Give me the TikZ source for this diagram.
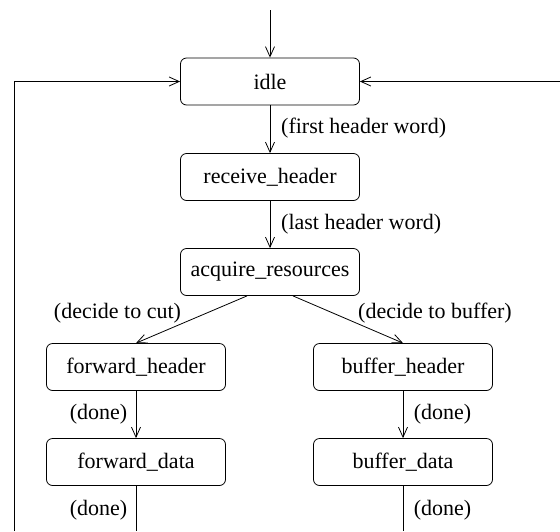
\documentclass[tikz,border=0pt]{standalone}
\usepackage{fontspec}
\setmainfont{Liberation Serif}
\usetikzlibrary{arrows.meta}

\begin{document}
\begin{tikzpicture}[x=1pt,y=-1pt]

%
% Styles
%
\tikzstyle{state} = [rectangle,draw,rounded corners=6pt,line width=0.8pt,
                     minimum width=179pt,minimum height=47pt,inner sep=0pt,
                     font=\fontsize{22}{26}\selectfont]
\tikzstyle{edge}  = [->,>={Straight Barb[length=10pt,width=9pt]},line width=0.8pt]
\tikzstyle{line}  = [line width=0.8pt]
\tikzstyle{cond}  = [inner sep=0pt,font=\fontsize{22}{26}\selectfont]

\useasboundingbox (0,0) rectangle (560,531);

\node[state] (idle) at (270, 81.5) {idle};
\node[state] (recv) at (270,177)   {receive\_header};
\node[state] (acq)  at (270,272)   {acquire\_resources};
\node[state] (fwdh) at (136,367)   {forward\_header};
\node[state] (bufh) at (403,367)   {buffer\_header};
\node[state] (fwdd) at (136,462)   {forward\_data};
\node[state] (bufd) at (403,462)   {buffer\_data};

\coordinate (start) at (270,10);
\coordinate (ltop)  at (14,81.5);
\coordinate (lbot)  at (14,531);
\coordinate (rtop)  at (560,81.5);
\coordinate (fout)  at (136,531);
\coordinate (bout)  at (403,531);

\draw[edge] (start) -- (idle);
\draw[edge] (idle) -- (recv);
\draw[edge] (recv) -- (acq);
\draw[edge] ([xshift=-23pt]acq.south) -- (fwdh.north);
\draw[edge] ([xshift=23pt]acq.south) -- (bufh.north);
\draw[edge] (fwdh) -- (fwdd);
\draw[edge] (bufh) -- (bufd);
\draw[line] (fwdd) -- (fout);
\draw[line] (bufd) -- (bout);
\draw[edge] (lbot) -- (ltop) -- (idle);
\draw[edge] (rtop) -- (idle);

\node[cond,anchor=west] (c1) at (281,128) {(first header word)};
\node[cond,anchor=west] (c2) at (281,224) {(last header word)};
\node[cond] (c3) at (117.5,313) {(decide to cut)};
\node[cond] (c4) at (435,313)   {(decide to buffer)};
\node[cond] (c5) at (98.5,414)  {(done)};
\node[cond] (c6) at (442.5,414) {(done)};
\node[cond] (c7) at (98.5,510)  {(done)};
\node[cond] (c8) at (442.5,510) {(done)};

\end{tikzpicture}
\end{document}
